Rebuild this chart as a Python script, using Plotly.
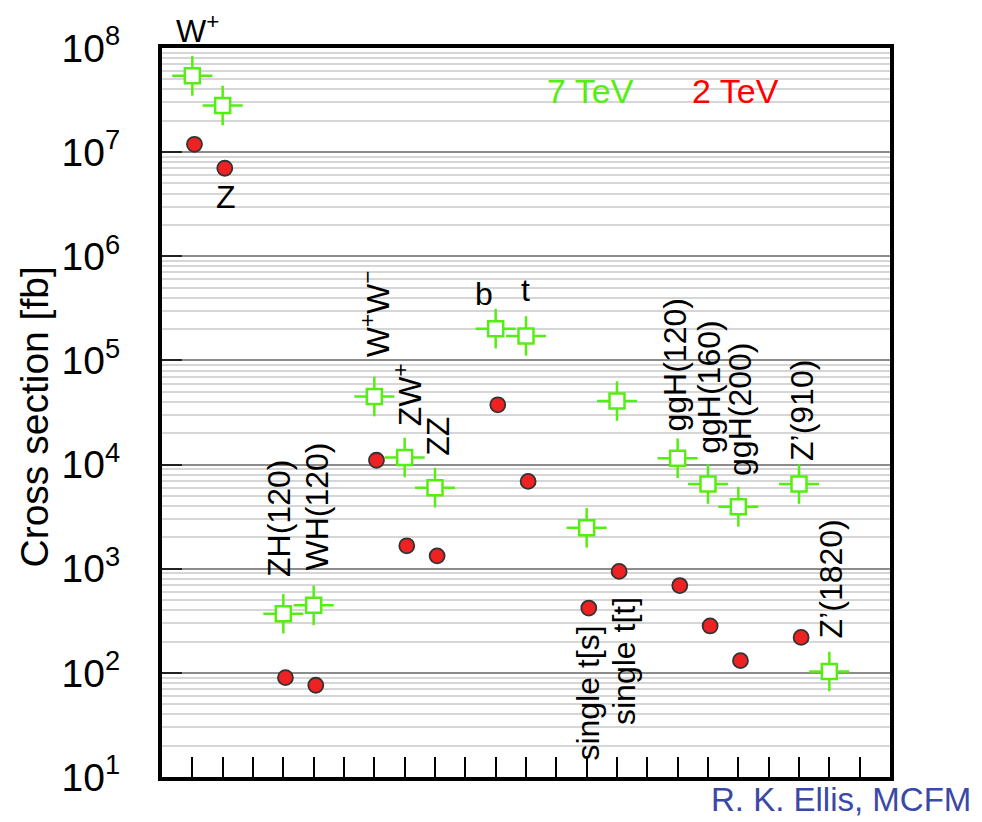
import plotly.graph_objects as go

# ---------------- data ----------------
processes = ["W⁺", "Z", "ZH(120)", "WH(120)", "W⁺W⁻", "ZW⁺", "ZZ", "b", "t",
             "single t[s]", "single t[t]", "ggH(120)", "ggH(160)", "ggH(200)",
             "Z'(910)", "Z'(1820)"]
slot = [1, 2, 4, 5, 7, 8, 9, 11, 12, 14, 15, 17, 18, 19, 21, 22]
xsec_7tev = [5.4e7, 2.8e7, 370, 445, 4.5e4, 1.17e4, 6000, 2.02e5, 1.72e5,
             2470, 4.07e4, 1.15e4, 6500, 3930, 6500, 103]
xsec_2tev = [1.19e7, 7.0e6, 90, 76, 1.1e4, 1660, 1330, 3.75e4, 6890,
             419, 942, 689, 282, 131, 219, None]
ytick_vals = [1e1, 1e2, 1e3, 1e4, 1e5, 1e6, 1e7, 1e8]
ytick_text = ["10<sup>1</sup>", "10<sup>2</sup>", "10<sup>3</sup>", "10<sup>4</sup>",
              "10<sup>5</sup>", "10<sup>6</sup>", "10<sup>7</sup>", "10<sup>8</sup>"]
xtick_vals = list(range(1, 24))

# label placement (style): text, slot, x shift px, y (log10), rotated?, anchor
label_layout = [
    ("Z", 2, 3, 6.57, False, "middle"),
    ("ZH(120)", 4, -5, 2.90, True, "bottom"),
    ("WH(120)", 5, 3, 2.96, True, "bottom"),
    ("W<sup>+</sup>W<sup>−</sup>", 7, 1, 5.01, True, "bottom"),
    ("ZW<sup>+</sup>", 8, 3, 4.35, True, "bottom"),
    ("ZZ", 9, 3, 4.06, True, "bottom"),
    ("b", 11, -12, 5.64, False, "middle"),
    ("t", 12, -1, 5.68, False, "middle"),
    ("single t[s]", 14, 1, 1.14, True, "bottom"),
    ("single t[t]", 15, 7, 1.48, True, "bottom"),
    ("ggH(120)", 17, -3, 4.30, True, "bottom"),
    ("ggH(160)", 18, 1, 4.08, True, "bottom"),
    ("ggH(200)", 19, 1, 3.87, True, "bottom"),
    ("Z’(910)", 21, 3, 4.01, True, "bottom"),
    ("Z’(1820)", 22, 2, 2.31, True, "bottom"),
]

GREEN = "#55ee11"
RED = "#ee2222"
FONT = "Liberation Sans, Arial, sans-serif"
LABEL_SIZE = 32

# page body has an 8px margin: plot area is placed so it lands at x 162-890, y 45-777
PX0, PY0, PW, PH = 162, 45, 728, 732


def px(x):
    return (x - PX0) / PW


def py(y):
    return 1 - (y - PY0) / PH


err_dec = 0.19
err_up = [v * (10 ** err_dec - 1) for v in xsec_7tev]
err_dn = [v * (1 - 10 ** -err_dec) for v in xsec_7tev]

fig = go.Figure()

fig.add_trace(go.Scatter(
    x=slot, y=xsec_7tev, mode="markers", name="7 TeV",
    marker=dict(symbol="square", size=15, color="white",
                line=dict(color=GREEN, width=2.5)),
    error_y=dict(type="data", symmetric=False, array=err_up, arrayminus=err_dn,
                 color=GREEN, thickness=2.5, width=0),
    error_x=dict(type="constant", value=0.66, color=GREEN, thickness=2.5, width=0),
    cliponaxis=False,
))

fig.add_trace(go.Scatter(
    x=[s + 0.07 for s in slot], y=xsec_2tev, mode="markers", name="2 TeV",
    marker=dict(symbol="circle", size=15, color=RED,
                line=dict(color="#333333", width=1.8)),
    cliponaxis=False,
))

annotations = []
for text, s, dx, ylog, rot, anchor in label_layout:
    annotations.append(dict(
        x=s, y=ylog, xref="x", yref="y", text=text, showarrow=False,
        textangle=-90 if rot else 0, xanchor="center", yanchor=anchor,
        xshift=dx, font=dict(family=FONT, size=LABEL_SIZE, color="black"),
    ))

annotations += [
    dict(x=px(197), y=py(26), xref="paper", yref="paper",
         text="W<sup>+</sup>", showarrow=False, xanchor="center", yanchor="middle",
         font=dict(family=FONT, size=LABEL_SIZE, color="black")),
    dict(x=px(590), y=py(88), xref="paper", yref="paper",
         text="7 TeV", showarrow=False, xanchor="center", yanchor="middle",
         font=dict(family=FONT, size=34, color=GREEN)),
    dict(x=px(735), y=py(88), xref="paper", yref="paper",
         text="2 TeV", showarrow=False, xanchor="center", yanchor="middle",
         font=dict(family=FONT, size=34, color="#ff0000")),
    dict(x=px(34), y=py(416), xref="paper", yref="paper",
         text="Cross section [fb]", showarrow=False, textangle=-90,
         xanchor="center", yanchor="middle",
         font=dict(family=FONT, size=39, color="black")),
    dict(x=px(973), y=py(800), xref="paper", yref="paper",
         text="R. K. Ellis, MCFM", showarrow=False, xanchor="right", yanchor="middle",
         font=dict(family=FONT, size=33, color="#3a48a6")),
]

minor_vals = [m * 10 ** e for e in range(1, 8) for m in range(2, 10)]

fig.update_layout(
    width=974, height=814,
    margin=dict(l=PX0 - 8, r=974 + 8 - (PX0 + PW), t=PY0 - 8, b=814 + 8 - (PY0 + PH)),
    paper_bgcolor="white", plot_bgcolor="white",
    showlegend=False,
    font=dict(family=FONT, color="black"),
    annotations=annotations,
    shapes=[dict(type="rect", xref="paper", yref="paper",
                 x0=px(533), x1=px(785), y0=py(115), y1=py(63),
                 fillcolor="white", line=dict(width=0), layer="between")],
    xaxis=dict(range=[0, 24], tickvals=xtick_vals, showticklabels=False,
               ticks="inside", ticklen=20, tickwidth=2.2, tickcolor="black",
               showgrid=False, zeroline=False,
               showline=True, linewidth=4, linecolor="black", mirror=True),
    yaxis=dict(type="log", range=[1, 8], tickvals=ytick_vals, ticktext=ytick_text,
               ticks="inside", ticklen=20, tickwidth=2, tickcolor="#222222",
               tickfont=dict(family=FONT, size=39, color="black"),
               ticklabelstandoff=30,
               showgrid=True, gridcolor="#8c8c8c", gridwidth=2,
               minor=dict(tickvals=minor_vals, showgrid=True, gridcolor="#d6d6d6",
                          gridwidth=2, ticks=""),
               zeroline=False,
               showline=True, linewidth=4, linecolor="black", mirror=True),
)

fig.write_html("out.html")
